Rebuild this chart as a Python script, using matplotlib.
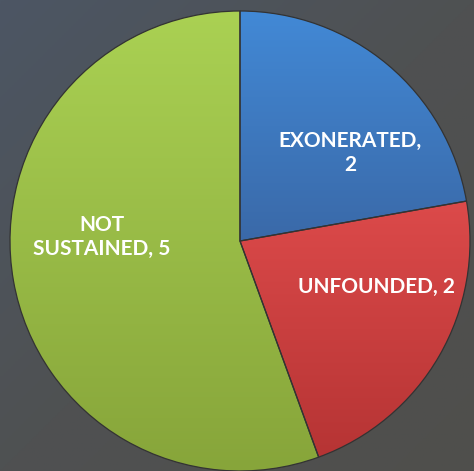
import numpy as np
import matplotlib as mpl
mpl.use('Agg')
import matplotlib.pyplot as plt
from matplotlib.colors import LinearSegmentedColormap

# data
categories = ['EXONERATED', 'UNFOUNDED', 'NOT SUSTAINED']
values = [2, 2, 5]
label_texts = ['EXONERATED,\n2', 'UNFOUNDED, 2', 'NOT\nSUSTAINED, 5']

# light (top) / dark (bottom) shade for each slice
shades = [('#4289d6', '#3a69a8'), ('#dc4a4a', '#b63434'), ('#aad153', '#87a53a')]
label_pos = [(350, 318), (377, 184), (102, 234)]

W, H = 474, 471
fig = plt.figure(figsize=(W / 100, H / 100), dpi=100)
ax = fig.add_axes([0, 0, 1, 1])

# background gradient (slate top-left -> neutral grey bottom-right)
yy, xx = np.mgrid[0:1:200j, 0:1:200j]
t = (xx + (1 - yy)) / 2
bg = LinearSegmentedColormap.from_list('bg', ['#4c5664', '#4f5152', '#4f4f4c'])
ax.imshow(t, cmap=bg, extent=[0, W, 0, H], origin='lower', zorder=0, aspect='auto')

center = (240, 230)
radius = 230
wedges, _ = ax.pie(values, startangle=90, counterclock=False, center=center,
                   radius=radius, frame=True,
                   wedgeprops=dict(edgecolor='#333333', linewidth=0.9))

# vertical gradient inside each wedge
for w, (light, dark) in zip(wedges, shades):
    w.set_facecolor(dark)
    bb = w.get_path().get_extents(w.get_patch_transform())
    cm = LinearSegmentedColormap.from_list('s', [dark, light])
    grad = np.linspace(0, 1, 256).reshape(-1, 1)
    im = ax.imshow(grad, cmap=cm, extent=[bb.x0, bb.x1, bb.y0, bb.y1],
                   origin='lower', aspect='auto', zorder=w.get_zorder() + 0.1)
    im.set_clip_path(w)
    w.set_zorder(w.get_zorder() + 0.2)
    w.set_facecolor('none')

for txt, (x, y) in zip(label_texts, label_pos):
    ax.text(x, y, txt, ha='center', va='center', color='white',
            fontsize=15, fontweight='bold', family=['Lato', 'DejaVu Sans'],
            linespacing=1.3, zorder=10)

ax.set_xlim(0, W)
ax.set_ylim(0, H)
ax.set_aspect('equal')
ax.axis('off')

fig.savefig('out.png', dpi=100)
